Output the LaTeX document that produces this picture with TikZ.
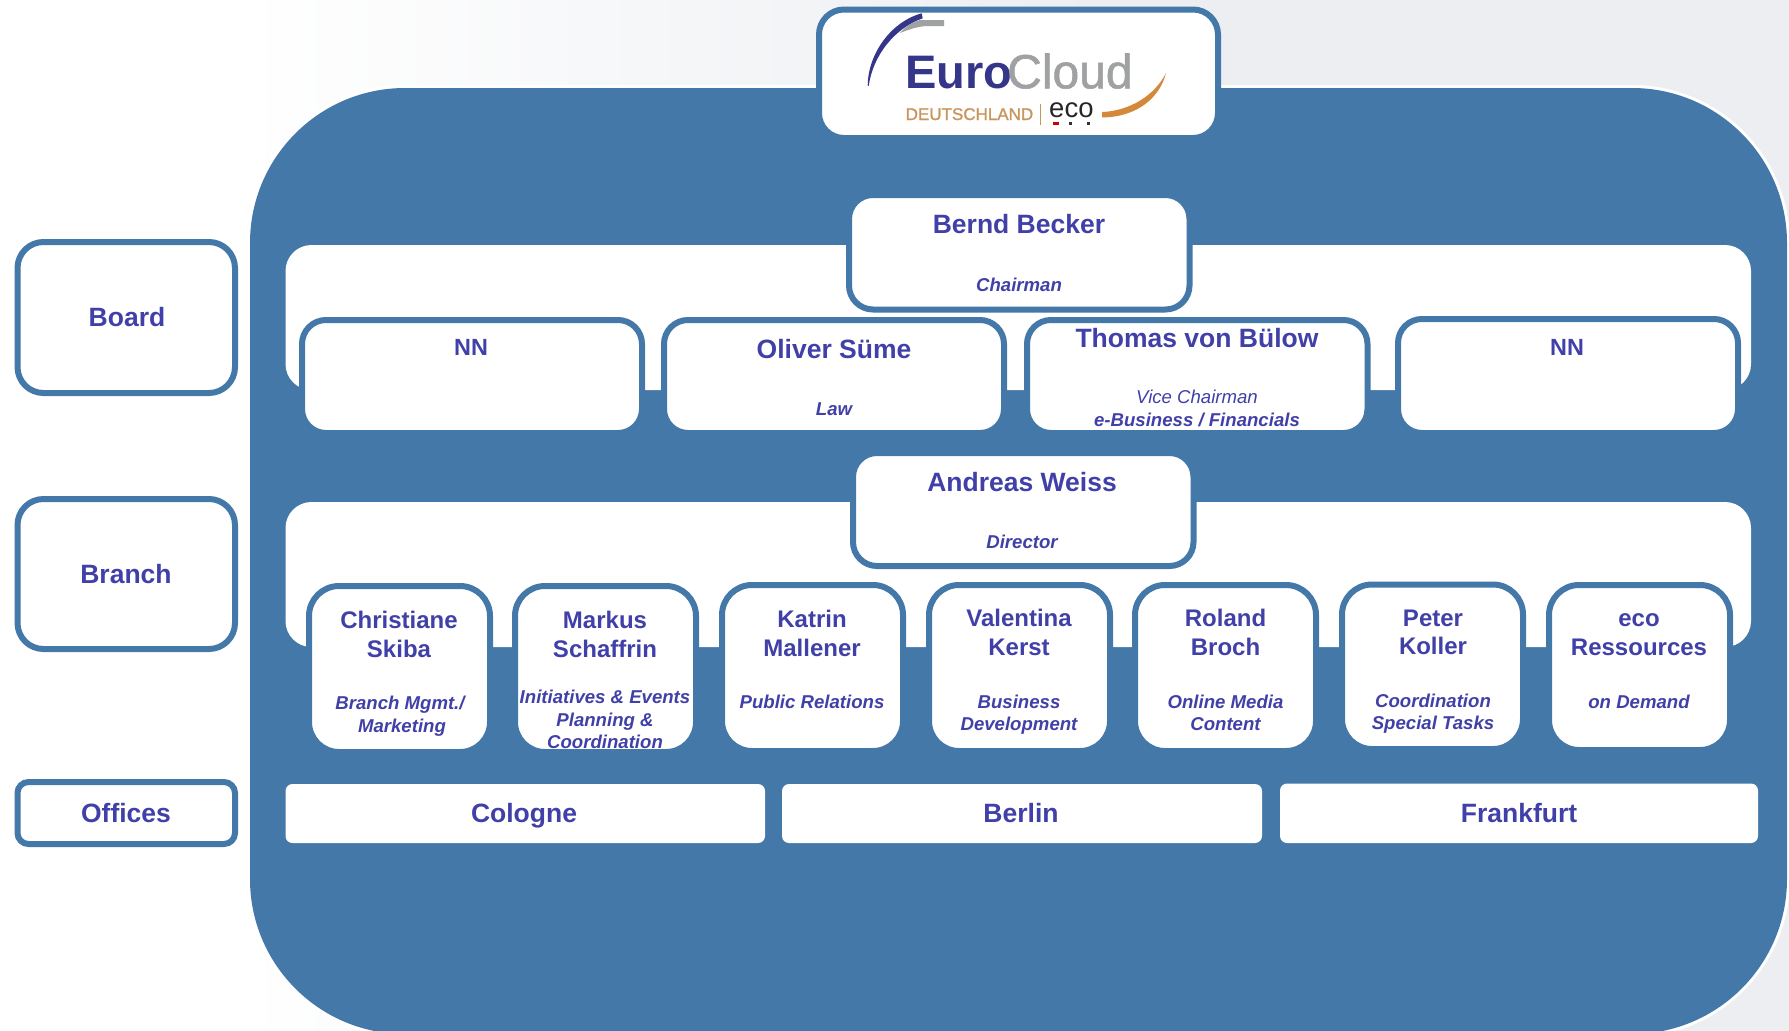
\documentclass[tikz,border=0pt]{standalone}
\usepackage{fontspec}
\setmainfont{Liberation Sans}
\definecolor{panelblue}{HTML}{4378A9}
\definecolor{inkblue}{HTML}{4040A8}
\definecolor{bggrey}{HTML}{ECEEF2}
\definecolor{logoblue}{HTML}{35358A}
\definecolor{logogrey}{HTML}{9FA1A3}
\definecolor{logotan}{HTML}{C8955C}
\definecolor{logoorange}{HTML}{D4893A}
\tikzset{
  plainbox/.style={rectangle,fill=white,inner sep=0pt,outer sep=0pt},
  framed/.style={plainbox,draw=panelblue,line width=6pt,rounded corners=#1},
  framed/.default=26pt,
  band/.style={plainbox,rounded corners=26pt},
  officebox/.style={plainbox,rounded corners=7pt},
  txt/.style={anchor=base,inner sep=0pt,outer sep=0pt,text=inkblue},
  lab/.style={txt,font=\fontsize{26.5}{30}\selectfont\bfseries},
  nn/.style={txt,font=\fontsize{23.4}{28}\selectfont\bfseries},
  nam/.style={txt,font=\fontsize{26.5}{30}\selectfont\bfseries},
  per/.style={txt,font=\fontsize{24}{28}\selectfont\bfseries},
  rol/.style={txt,font=\fontsize{18.6}{22}\selectfont\bfseries\itshape},
  rolreg/.style={txt,font=\fontsize{18.6}{22}\selectfont\itshape},
}
\newcommand{\bx}[6][]{%
  \pgfmathsetmacro{\bxcx}{(#3+#5)/2}%
  \pgfmathsetmacro{\bxcy}{(#4+#6)/2}%
  \pgfmathsetmacro{\bxw}{#5-#3}%
  \pgfmathsetmacro{\bxh}{#6-#4}%
  \node[#1,minimum width=\bxw pt,minimum height=\bxh pt] (#2) at (\bxcx,\bxcy) {};%
}
\newcommand{\tx}[5]{\node[#1] (#2) at (#3,#4) {#5};}
\begin{document}
\begin{tikzpicture}[x=1pt,y=-1pt]
\useasboundingbox (0,0) rectangle (1789,1031);
\clip (0,0) rectangle (1789,1031);
% background
\fill[white] (0,0) rectangle (240,1031);
\shade[left color=white,right color=bggrey,shading angle=90] (240,0) rectangle (1100,1031);
\fill[bggrey] (1100,0) rectangle (1789,1031);
% panel
\draw[white,line width=6pt,fill=panelblue,rounded corners=155pt] (250,88) rectangle (1787,1034);
\fill[panelblue,rounded corners=155pt] (250,88) rectangle (1787,1034);
% logo box
\bx[framed=25pt]{logobox}{819}{9.5}{1218}{138}
\fill[logoblue] (867.7,85) .. controls (868,55) and (890,22) .. (921.7,13.3) -- (922.7,18.3) .. controls (895,28) and (873,55) .. (868.7,86) -- cycle;
\fill[logogrey] (944,20) -- (944,26) -- (926,26) .. controls (915,27) and (908,30) .. (900,33) .. controls (905,27) and (912,22) .. (920,20) -- cycle;
\fill[logoorange] (1102,112) .. controls (1130,111) and (1155,95) .. (1166,73) .. controls (1160,97) and (1138,117) .. (1102,117.5) -- cycle;
\node[anchor=base west,inner sep=0pt,text=logoblue,font=\fontsize{47}{50}\selectfont\bfseries] (euro) at (905,88.3) {Euro};
\node[anchor=base west,inner sep=0pt,text=logogrey,font=\fontsize{48}{50}\selectfont\addfontfeature{FakeBold=1.2}] (cloud) at (1007,88.3) {Cloud};
\node[anchor=base west,inner sep=0pt,text=logotan,font=\fontsize{17}{20}\selectfont\addfontfeature{FakeBold=1.2}] (deutsch) at (905.5,120) {DEUTSCHLAND};
\draw[logotan,line width=0.6pt] (1040.7,104) -- (1040.7,125);
\node[anchor=base west,inner sep=0pt,text=black!85,font=\fontsize{27.5}{30}\selectfont] (eco) at (1049,117.3) {eco};
\fill[red!80!black] (1053,122) rectangle (1059,125);
\fill[black!80] (1068.5,122) rectangle (1071.7,125);
\fill[black!80] (1087,122) rectangle (1090,125);
% side labels
\bx[framed=26pt]{sboard}{17.5}{242}{235}{393}
\bx[framed=26pt]{sbranch}{17.5}{499}{235}{649}
\bx[framed=11pt]{soffices}{17.5}{782}{235}{844}
\tx{lab}{tboard}{127}{326.7}{Board}
\tx{lab}{tbranch}{126}{583}{Branch}
\tx{lab}{toffices}{126}{822.5}{Offices}
% bands
\bx[band]{bandboard}{285.5}{245}{1751}{390}
\bx[band]{bandbranch}{285.5}{502}{1751}{647}
% board row
\bx[framed=24pt]{chair}{849}{195}{1189.5}{309.5}
\bx[framed=24pt]{nna}{302}{320}{642}{433}
\bx[framed=24pt]{oliver}{664}{320}{1004}{433}
\bx[framed=24pt]{thomas}{1027}{320}{1367.5}{433}
\bx[framed=24pt]{nnb}{1398}{319}{1738}{433}
\tx{nam}{tbernd}{1019}{233.5}{Bernd Becker}
\tx{rol}{tchair}{1019}{291}{Chairman}
\tx{nn}{tnna}{471}{355}{NN}
\tx{nn}{tnnb}{1567}{355}{NN}
\tx{nam}{toliver}{834}{358}{Oliver Süme}
\tx{rol}{tlaw}{834}{415}{Law}
\tx{nam}{tthomas}{1197}{347}{Thomas von Bülow}
\tx{rolreg}{tvice}{1197}{403}{Vice Chairman}
\tx{rol}{tebus}{1197}{426}{e-Business / Financials}
% branch row
\bx[framed=24pt]{dir}{853}{453}{1193.5}{566}
\bx[framed=30pt]{pa}{309}{586}{490}{752}
\bx[framed=30pt]{pb}{515}{586}{696}{752}
\bx[framed=30pt]{pc}{722}{585}{903}{751}
\bx[framed=30pt]{pd}{929}{585}{1110}{751}
\bx[framed=30pt]{pe}{1135}{585}{1316}{751}
\bx[framed=30pt]{pf}{1342}{584.5}{1523}{749}
\bx[framed=30pt]{pg}{1549}{585}{1730}{750}
\tx{nam}{tandreas}{1022}{491.5}{Andreas Weiss}
\tx{rol}{tdir}{1022}{548}{Director}
\tx{per}{ta1}{399}{628}{Christiane}
\tx{per}{ta2}{399}{657}{Skiba}
\tx{rol}{ta3}{400}{709}{Branch Mgmt./}
\tx{rol}{ta4}{402}{732}{Marketing}
\tx{per}{tb1}{605}{628}{Markus}
\tx{per}{tb2}{605}{657}{Schaffrin}
\tx{rol}{tb3}{605}{703}{Initiatives \& Events}
\tx{rol}{tb4}{605}{726}{Planning \&}
\tx{rol}{tb5}{605}{748}{Coordination}
\tx{per}{tc1}{812}{627}{Katrin}
\tx{per}{tc2}{812}{656}{Mallener}
\tx{rol}{tc3}{812}{708}{Public Relations}
\tx{per}{td1}{1019}{626}{Valentina}
\tx{per}{td2}{1019}{655}{Kerst}
\tx{rol}{td3}{1019}{708}{Business}
\tx{rol}{td4}{1019}{730}{Development}
\tx{per}{te1}{1225.5}{626}{Roland}
\tx{per}{te2}{1225.5}{655}{Broch}
\tx{rol}{te3}{1225.5}{708}{Online Media}
\tx{rol}{te4}{1225.5}{730}{Content}
\tx{per}{tf1}{1433}{626}{Peter}
\tx{per}{tf2}{1433}{654}{Koller}
\tx{rol}{tf3}{1433}{707}{Coordination}
\tx{rol}{tf4}{1433}{729}{Special Tasks}
\tx{per}{tg1}{1639}{626}{eco}
\tx{per}{tg2}{1639}{655}{Ressources}
\tx{rol}{tg3}{1639}{708}{on Demand}
% offices
\bx[officebox]{cologne}{285.5}{784}{765}{843}
\bx[officebox]{berlin}{782}{784}{1262}{843}
\bx[officebox]{frankfurt}{1280}{783.5}{1758}{843}
\tx{nam}{tcologne}{524}{822.5}{Cologne}
\tx{nam}{tberlin}{1021}{822.5}{Berlin}
\tx{nam}{tfrankfurt}{1519}{822.5}{Frankfurt}
\end{tikzpicture}
\end{document}
